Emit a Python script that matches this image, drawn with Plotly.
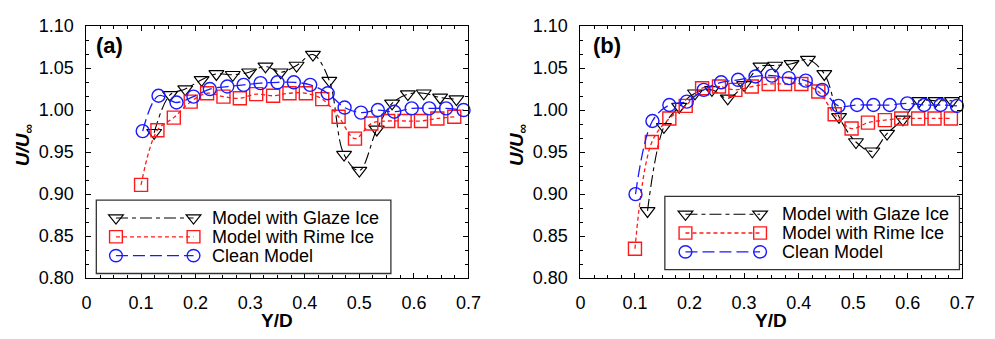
import plotly.graph_objects as go

# ---------------- data ----------------
series_names = ["Model with Glaze Ice", "Model with Rime Ice", "Clean Model"]

# panel (a)
glaze_a_x = [0.124, 0.153, 0.181, 0.211, 0.238, 0.268, 0.298, 0.328, 0.356, 0.385,
             0.415, 0.445, 0.472, 0.500, 0.532, 0.560, 0.589, 0.618, 0.648, 0.678]
glaze_a_y = [0.973, 1.018, 1.025, 1.036, 1.043, 1.042, 1.045, 1.052, 1.045, 1.053,
             1.066, 1.035, 0.947, 0.928, 0.977, 1.008, 1.019, 1.020, 1.015, 1.013]
rime_a_x = [0.100, 0.130, 0.160, 0.191, 0.221, 0.251, 0.281, 0.311, 0.342, 0.372,
            0.402, 0.432, 0.462, 0.492, 0.522, 0.553, 0.583, 0.613, 0.643, 0.674]
rime_a_y = [0.911, 0.976, 0.991, 1.010, 1.020, 1.016, 1.014, 1.019, 1.017, 1.020,
            1.020, 1.013, 0.992, 0.966, 0.984, 0.987, 0.987, 0.987, 0.990, 0.992]
clean_a_x = [0.103, 0.132, 0.165, 0.196, 0.226, 0.258, 0.288, 0.319, 0.350, 0.380,
             0.410, 0.442, 0.473, 0.503, 0.534, 0.564, 0.596, 0.628, 0.659, 0.691]
clean_a_y = [0.975, 1.017, 1.009, 1.016, 1.025, 1.028, 1.030, 1.032, 1.033, 1.033,
             1.030, 1.020, 1.003, 0.997, 1.000, 0.998, 1.002, 1.002, 1.002, 1.000]

# panel (b)
glaze_b_x = [0.123, 0.153, 0.181, 0.210, 0.241, 0.270, 0.300, 0.330, 0.357, 0.387,
             0.417, 0.447, 0.474, 0.505, 0.535, 0.562, 0.591, 0.621, 0.651, 0.681]
glaze_b_y = [0.880, 0.980, 1.004, 1.020, 1.024, 1.014, 1.030, 1.052, 1.053, 1.055,
             1.060, 1.043, 0.992, 0.962, 0.951, 0.972, 0.989, 1.011, 1.011, 1.011]
rime_b_x = [0.100, 0.131, 0.163, 0.193, 0.223, 0.254, 0.284, 0.314, 0.345, 0.375,
            0.405, 0.436, 0.466, 0.497, 0.527, 0.558, 0.588, 0.619, 0.649, 0.679]
rime_b_y = [0.835, 0.962, 0.990, 1.005, 1.026, 1.028, 1.024, 1.028, 1.031, 1.031,
            1.031, 1.022, 0.995, 0.978, 0.985, 0.988, 0.990, 0.990, 0.990, 0.990]
clean_b_x = [0.101, 0.132, 0.163, 0.195, 0.226, 0.258, 0.289, 0.321, 0.351, 0.382,
             0.413, 0.443, 0.473, 0.507, 0.537, 0.567, 0.599, 0.630, 0.660, 0.690]
clean_b_y = [0.900, 0.987, 1.006, 1.010, 1.024, 1.033, 1.036, 1.040, 1.041, 1.038,
             1.035, 1.024, 1.005, 1.006, 1.006, 1.006, 1.008, 1.006, 1.006, 1.005]

x_ticks = [0, 0.1, 0.2, 0.3, 0.4, 0.5, 0.6, 0.7]
y_ticks = [0.80, 0.85, 0.90, 0.95, 1.00, 1.05, 1.10]
panel_labels = ["(a)", "(b)"]

# ---------------- styles ----------------
W, H = 995, 339
FONT = "Liberation Sans, Arial, sans-serif"
styles = [
    dict(color="black", symbol="triangle-down-open", size=13, dash="12px,4px,4px,4px", width=1.1, mlw=1.2),
    dict(color="#ff1a1a", symbol="square-open", size=13, dash="4px,3px", width=1.3, mlw=1.4),
    dict(color="#1a1aff", symbol="circle-open", size=13, dash="12px,5px", width=1.3, mlw=1.4),
]

def fx(px):
    return px / W

def fy(py):
    return 1 - py / H

panel_left = [83, 586]
panel_w = 389
plot_top, plot_bot = 17, 285

fig = go.Figure()

panels = [
    [(glaze_a_x, glaze_a_y), (rime_a_x, rime_a_y), (clean_a_x, clean_a_y)],
    [(glaze_b_x, glaze_b_y), (rime_b_x, rime_b_y), (clean_b_x, clean_b_y)],
]

for p, series in enumerate(panels):
    xa = "x" if p == 0 else "x2"
    ya = "y" if p == 0 else "y2"
    for (xs, ys), st, name in zip(series, styles, series_names):
        fig.add_trace(go.Scatter(
            x=xs, y=ys, mode="lines+markers", name=name, showlegend=False,
            xaxis=xa, yaxis=ya,
            line=dict(color=st["color"], width=st["width"], dash=st["dash"], shape="spline", smoothing=1.0),
            marker=dict(symbol=st["symbol"], size=st["size"], color=st["color"],
                        line=dict(color=st["color"], width=st["mlw"])),
            cliponaxis=False,
        ))

axis_common = dict(
    showline=True, linecolor="black", linewidth=1, mirror="ticks",
    ticks="inside", ticklen=5, tickwidth=1, tickcolor="black",
    showgrid=False, zeroline=False,
    tickfont=dict(family=FONT, size=18, color="black"),
    ticklabelstandoff=8,
)

for p in range(2):
    sx = "" if p == 0 else "2"
    dom_x = [fx(panel_left[p]), fx(panel_left[p] + panel_w)]
    dom_y = [fy(plot_bot), fy(plot_top)]
    fig.update_layout(**{
        "xaxis" + sx: dict(axis_common, domain=dom_x, range=[0, 0.7], tickvals=x_ticks,
                           ticktext=[("%g" % v) for v in x_ticks], anchor="y" + sx,
                           minor=dict(dtick=0.025, tick0=0, ticks="inside", ticklen=3, tickcolor="black")),
        "yaxis" + sx: dict(axis_common, domain=dom_y, range=[0.8, 1.1], tickvals=y_ticks,
                           ticktext=["%.2f" % v for v in y_ticks], anchor="x" + sx,
                           minor=dict(dtick=0.05 / 3, tick0=0.8, ticks="inside", ticklen=3, tickcolor="black")),
    })

annotations = []
shapes = []

# panel labels and axis titles
label_pos = [(106, 38), (613, 38)]
for p in range(2):
    annotations.append(dict(x=fx(label_pos[p][0]), y=fy(label_pos[p][1]), xref="paper", yref="paper",
                            text="<b>%s</b>" % panel_labels[p], showarrow=False,
                            font=dict(family=FONT, size=22, color="black"),
                            xanchor="center", yanchor="middle"))
    cx = panel_left[p] + panel_w / 2
    annotations.append(dict(x=fx(cx), y=fy(330), xref="paper", yref="paper",
                            text="<b>Y/D</b>", showarrow=False,
                            font=dict(family=FONT, size=19, color="black"),
                            xanchor="center", yanchor="middle"))
    annotations.append(dict(x=fx(panel_left[p] - 64), y=fy(143), xref="paper", yref="paper",
                            text="<b><i>U/U</i></b><sub><b>∞</b></sub>", showarrow=False, textangle=-90,
                            font=dict(family=FONT, size=19, color="black"),
                            xanchor="center", yanchor="middle"))

# custom legends (marker at both ends of the line sample, like the original)
legend_boxes = [(93, 202, 393, 280), (672, 198, 972, 276)]
legend_rows = [[221, 241, 261], [217, 237, 257]]
legend_mx = [(113, 192), (693, 769)]
legend_tx = [209, 789]

def marker_shape(kind, cx, cy, color, lw):
    r = 6.5
    if kind.startswith("triangle"):
        rt = r * 2 / 3 ** 0.5
        pts = [(cx - rt, cy - r / 2), (cx + rt, cy - r / 2), (cx, cy + r)]
        path = "M %f,%f L %f,%f L %f,%f Z" % tuple(v for pt in pts for v in (fx(pt[0]), fy(pt[1])))
        return dict(type="path", path=path, xref="paper", yref="paper",
                    line=dict(color=color, width=lw))
    typ = "rect" if kind.startswith("square") else "circle"
    return dict(type=typ, x0=fx(cx - r), x1=fx(cx + r), y0=fy(cy + r), y1=fy(cy - r),
                xref="paper", yref="paper", line=dict(color=color, width=lw))

for p in range(2):
    x0, y0, x1, y1 = legend_boxes[p]
    shapes.append(dict(type="rect", xref="paper", yref="paper", x0=fx(x0), x1=fx(x1), y0=fy(y1), y1=fy(y0),
                       line=dict(color="#333333", width=1.3), fillcolor="white", layer="above"))
    for i, st in enumerate(styles):
        ry = legend_rows[p][i]
        mx0, mx1 = legend_mx[p]
        shapes.append(dict(type="line", xref="paper", yref="paper", x0=fx(mx0), x1=fx(mx1),
                           y0=fy(ry), y1=fy(ry), line=dict(color=st["color"], width=st["width"], dash=st["dash"])))
        shapes.append(marker_shape(st["symbol"], mx0, ry, st["color"], st["mlw"]))
        shapes.append(marker_shape(st["symbol"], mx1, ry, st["color"], st["mlw"]))
        annotations.append(dict(x=fx(legend_tx[p]), y=fy(ry), xref="paper", yref="paper",
                                text=series_names[i], showarrow=False,
                                font=dict(family=FONT, size=18, color="black"),
                                xanchor="left", yanchor="middle"))

fig.update_layout(
    width=W, height=H, margin=dict(l=0, r=0, t=0, b=0),
    paper_bgcolor="white", plot_bgcolor="white",
    showlegend=False, annotations=annotations, shapes=shapes,
    font=dict(family=FONT, color="black"),
)

fig.write_html("out.html")
